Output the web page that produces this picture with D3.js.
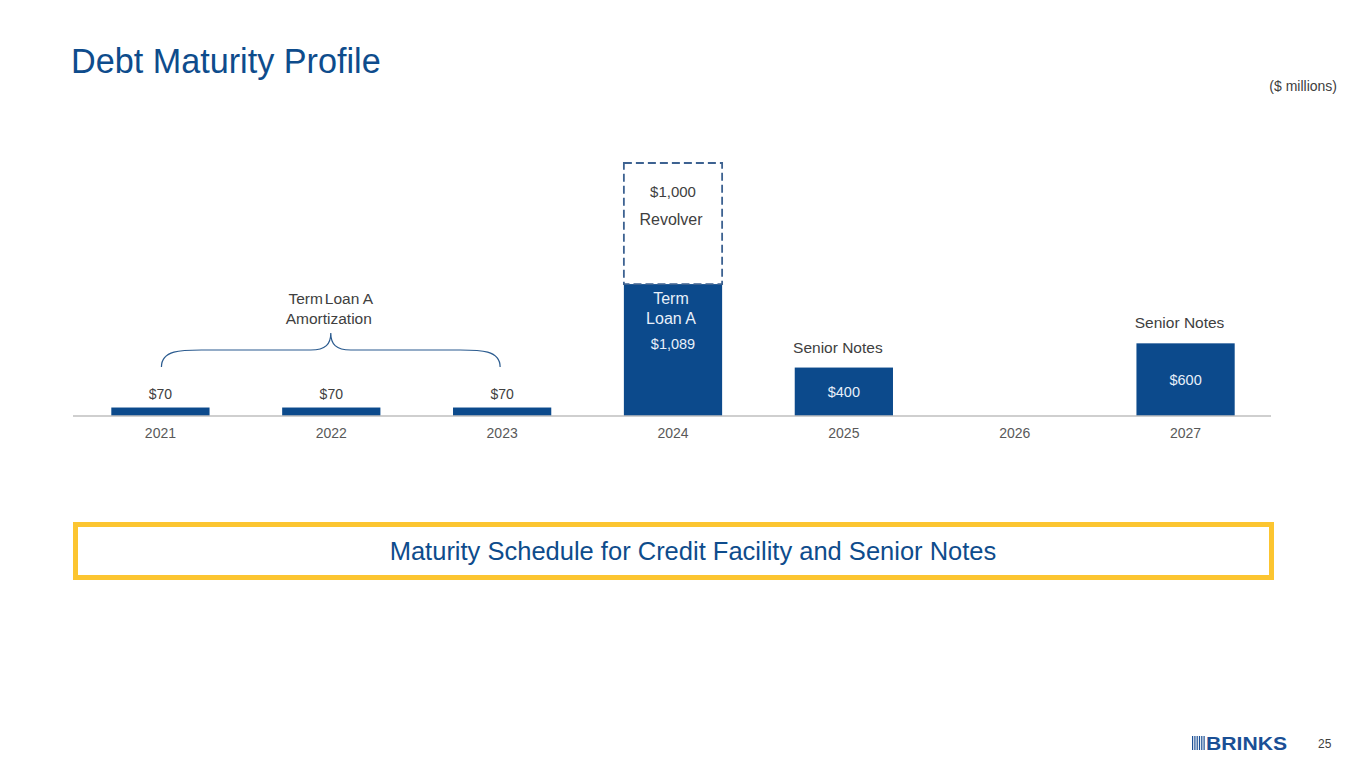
<!DOCTYPE html>
<html>
<head>
<meta charset="utf-8">
<script src="https://cdn.jsdelivr.net/npm/d3@7"></script>
<style>
  body { margin: 0; background: #fff; }
  svg { display: block; font-family: "Liberation Sans", Arial, sans-serif; }
</style>
</head>
<body>
<div id="chart"></div>
<script>
// values in $ millions
const years = ['2021', '2022', '2023', '2024', '2025', '2026', '2027'];
const termLoanA = [70, 70, 70, 1089, 0, 0, 0];
const seniorNotes = [0, 0, 0, 0, 400, 0, 600];
const revolver = [0, 0, 0, 1000, 0, 0, 0];

const width = 1365, height = 768;
const blue = '#0c4a8c';
const textGray = '#404040';

const svg = d3.select('#chart').append('svg')
    .attr('width', width)
    .attr('height', height);

// title
svg.append('text')
    .attr('x', 71).attr('y', 73)
    .attr('fill', '#0e4c8c')
    .attr('font-size', 34.2)
    .text('Debt Maturity Profile');

svg.append('text')
    .attr('x', 1337).attr('y', 91)
    .attr('text-anchor', 'end')
    .attr('fill', textGray)
    .attr('font-size', 14)
    .text('($ millions)');

const x = d3.scaleBand()
    .domain(years)
    .range([75, 1271])
    .paddingInner(0.425)
    .paddingOuter(0.2125);

const y = d3.scaleLinear()
    .domain([0, 2089])
    .range([416, 163]);

const data = years.map((yr, i) => ({
    year: yr,
    solid: termLoanA[i] + seniorNotes[i],
    tla: termLoanA[i],
    sn: seniorNotes[i],
    rev: revolver[i]
}));

// solid bars
svg.selectAll('.bar')
    .data(data.filter(d => d.solid > 0))
    .enter().append('rect')
    .attr('class', 'bar')
    .attr('x', d => x(d.year))
    .attr('y', d => y(d.solid))
    .attr('width', x.bandwidth())
    .attr('height', d => y(0) - y(d.solid))
    .attr('fill', blue);

// revolver dashed box stacked on top
svg.selectAll('.rev')
    .data(data.filter(d => d.rev > 0))
    .enter().append('rect')
    .attr('class', 'rev')
    .attr('x', d => x(d.year))
    .attr('y', d => y(d.solid + d.rev))
    .attr('width', x.bandwidth())
    .attr('height', d => y(d.solid) - y(d.solid + d.rev))
    .attr('fill', 'none')
    .attr('stroke', '#3d6291')
    .attr('stroke-width', 1.8)
    .attr('stroke-dasharray', '8,4');

svg.selectAll('.rev-label')
    .data(data.filter(d => d.rev > 0))
    .enter().append('text')
    .attr('x', d => x(d.year) + x.bandwidth() / 2)
    .attr('y', d => y(d.solid + d.rev) + 34)
    .attr('text-anchor', 'middle')
    .attr('fill', textGray)
    .attr('font-size', 15)
    .text(d => '$' + d3.format(',')(d.rev));

svg.append('text')
    .attr('x', x('2024') + x.bandwidth() / 2 - 2)
    .attr('y', y(termLoanA[3] + revolver[3]) + 62)
    .attr('text-anchor', 'middle')
    .attr('fill', textGray)
    .attr('font-size', 16)
    .text('Revolver');

// axis baseline
svg.append('line')
    .attr('x1', 73).attr('x2', 1271)
    .attr('y1', y(0)).attr('y2', y(0))
    .attr('stroke', '#bfbfbf')
    .attr('stroke-width', 1.6);

const xAxis = svg.append('g')
    .attr('transform', `translate(0,${y(0)})`)
    .call(d3.axisBottom(x).tickSize(0).tickPadding(12));
xAxis.select('.domain').remove();
xAxis.selectAll('text')
    .attr('font-family', '"Liberation Sans", Arial, sans-serif')
    .attr('font-size', 14)
    .attr('fill', '#595959');

// small term loan amortization labels above bars
svg.selectAll('.small-label')
    .data(data.filter(d => d.tla > 0 && d.tla < 200))
    .enter().append('text')
    .attr('x', d => x(d.year) + x.bandwidth() / 2)
    .attr('y', d => y(d.solid) - 9)
    .attr('text-anchor', 'middle')
    .attr('fill', textGray)
    .attr('font-size', 14)
    .text(d => '$' + d.tla);

// term loan A inside label
const tlaBig = data.filter(d => d.tla >= 200);
tlaBig.forEach(d => {
    const cx = x(d.year) + x.bandwidth() / 2;
    const top = y(d.solid);
    const g = svg.append('g').attr('fill', '#e8f0fa').attr('text-anchor', 'middle');
    g.append('text').attr('x', cx - 2).attr('y', top + 20).attr('font-size', 16).text('Term');
    g.append('text').attr('x', cx - 2).attr('y', top + 40).attr('font-size', 16).text('Loan A');
    g.append('text').attr('x', cx).attr('y', top + 65).attr('font-size', 14.5).text('$' + d3.format(',')(d.tla));
});

// senior notes labels
const snData = data.filter(d => d.sn > 0);
svg.selectAll('.sn-val')
    .data(snData)
    .enter().append('text')
    .attr('x', d => x(d.year) + x.bandwidth() / 2)
    .attr('y', d => (y(d.solid) + y(0)) / 2 + 5)
    .attr('text-anchor', 'middle')
    .attr('fill', '#e8f0fa')
    .attr('font-size', 14.5)
    .text(d => '$' + d.sn);

svg.selectAll('.sn-name')
    .data(snData)
    .enter().append('text')
    .attr('x', d => x(d.year) + x.bandwidth() / 2 - 6)
    .attr('y', d => y(d.solid) - 15)
    .attr('text-anchor', 'middle')
    .attr('fill', textGray)
    .attr('font-size', 15.5)
    .text('Senior Notes');

// brace over the amortization years
const bx0 = x('2021') + x.bandwidth() / 2 + 1;
const bx1 = x('2023') + x.bandwidth() / 2 - 2;
const bm = (bx0 + bx1) / 2;
const yEnd = 367, yMid = 350, yTip = 333;
const brace = d3.path();
brace.moveTo(bx0, yEnd);
brace.bezierCurveTo(bx0, yMid, bx0 + 20, yMid, bx0 + 40, yMid);
brace.lineTo(bm - 20, yMid);
brace.bezierCurveTo(bm - 5, yMid, bm, yMid - 6, bm, yTip);
brace.bezierCurveTo(bm, yMid - 6, bm + 5, yMid, bm + 20, yMid);
brace.lineTo(bx1 - 40, yMid);
brace.bezierCurveTo(bx1 - 20, yMid, bx1, yMid, bx1, yEnd);
svg.append('path')
    .attr('d', brace.toString())
    .attr('fill', 'none')
    .attr('stroke', '#2b5b8f')
    .attr('stroke-width', 1.2);

const tl = svg.append('text')
    .attr('x', bm).attr('y', 304)
    .attr('text-anchor', 'middle')
    .attr('fill', textGray)
    .attr('font-size', 15.5);
tl.append('tspan').text('Term');
tl.append('tspan').attr('dx', 2).text('Loan A');
svg.append('text')
    .attr('x', bm - 2).attr('y', 324)
    .attr('text-anchor', 'middle')
    .attr('fill', textGray)
    .attr('font-size', 15.5)
    .text('Amortization');

// yellow callout box
svg.append('rect')
    .attr('x', 75.5).attr('y', 524.5)
    .attr('width', 1196).attr('height', 53)
    .attr('fill', '#fff')
    .attr('stroke', '#fcc530')
    .attr('stroke-width', 5);
svg.append('text')
    .attr('x', 693).attr('y', 560)
    .attr('text-anchor', 'middle')
    .attr('fill', '#0e4c8c')
    .attr('font-size', 25.5)
    .text('Maturity Schedule for Credit Facility and Senior Notes');

// logo
const logo = svg.append('g').attr('fill', '#1a4f95');
d3.range(6).forEach(i => {
    logo.append('rect')
        .attr('x', 1192 + i * 2.3).attr('y', 736)
        .attr('width', 1.2).attr('height', 14);
});
logo.append('text')
    .attr('x', 1206).attr('y', 750)
    .attr('font-family', '"Liberation Sans Narrow", "Liberation Sans", sans-serif')
    .attr('font-weight', 'bold')
    .attr('font-size', 19)
    .attr('textLength', 81)
    .attr('lengthAdjust', 'spacingAndGlyphs')
    .text('BRINKS');

svg.append('text')
    .attr('x', 1318).attr('y', 748)
    .attr('fill', textGray)
    .attr('font-size', 12)
    .text('25');
</script>
</body>
</html>
